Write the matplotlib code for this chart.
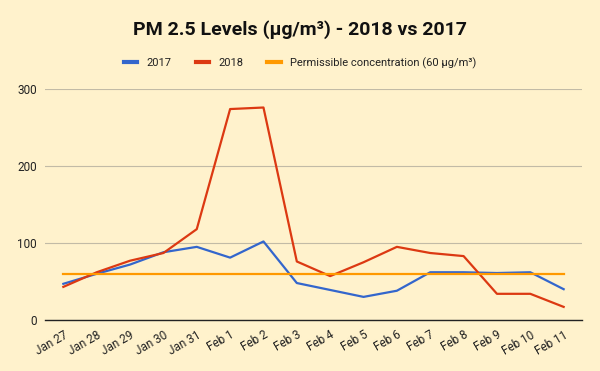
import matplotlib.pyplot as plt

plt.rcParams['font.family'] = ['Roboto', 'DejaVu Sans']

days = ['Jan 27', 'Jan 28', 'Jan 29', 'Jan 30', 'Jan 31', 'Feb 1', 'Feb 2', 'Feb 3',
        'Feb 4', 'Feb 5', 'Feb 6', 'Feb 7', 'Feb 8', 'Feb 9', 'Feb 10', 'Feb 11']
pm_2017 = [47, 60, 72, 88, 95, 81, 102, 48, 39, 30, 38, 62, 62, 61, 62, 40]
pm_2018 = [43, 62, 77, 87, 118, 274, 276, 76, 57, 75, 95, 87, 83, 34, 34, 17]
limite = [60] * len(days)

bg = '#fff2cc'
fig = plt.figure(figsize=(6, 3.71), dpi=100, facecolor=bg)
ax = fig.add_axes([0.075, 0.1375, 0.895, 0.6225], facecolor=bg)

x = range(len(days))
ax.plot(x, pm_2017, color='#3366cc', lw=1.6, label='2017')
ax.plot(x, pm_2018, color='#dc3912', lw=1.6, label='2018')
ax.plot(x, limite, color='#ff9900', lw=1.6, label='Permissible concentration (60 µg/m³)')

ax.set_xlim(-0.55, len(days) - 1 + 0.55)
ax.set_ylim(0, 300)
ax.set_yticks([0, 100, 200, 300])
ax.set_xticks(list(x))
ax.set_xticklabels(days, rotation=30, ha='right', rotation_mode='anchor')
ax.tick_params(length=0, labelsize=8.5, colors='#222222')
ax.tick_params(axis='x', pad=6)
ax.tick_params(axis='y', pad=6)
ax.grid(axis='y', color='#c2bba6', lw=0.8)
ax.set_axisbelow(True)
for s in ['top', 'right', 'left']:
    ax.spines[s].set_visible(False)
ax.spines['bottom'].set_color('#222222')
ax.spines['bottom'].set_linewidth(1)

fig.suptitle('PM 2.5 Levels (µg/m³) - 2018 vs 2017', y=0.945, fontsize=14,
             fontweight='bold', color='#111111')
fig.legend(loc='center', bbox_to_anchor=(0.5, 0.83), ncol=3, frameon=False,
           fontsize=8, handlelength=1.2, handletextpad=0.8, columnspacing=2.2,
           labelcolor='#222222')
leg = fig.legends[0]
for l in leg.get_lines():
    l.set_linewidth(3)

fig.savefig('out.png', dpi=100, facecolor=bg)
